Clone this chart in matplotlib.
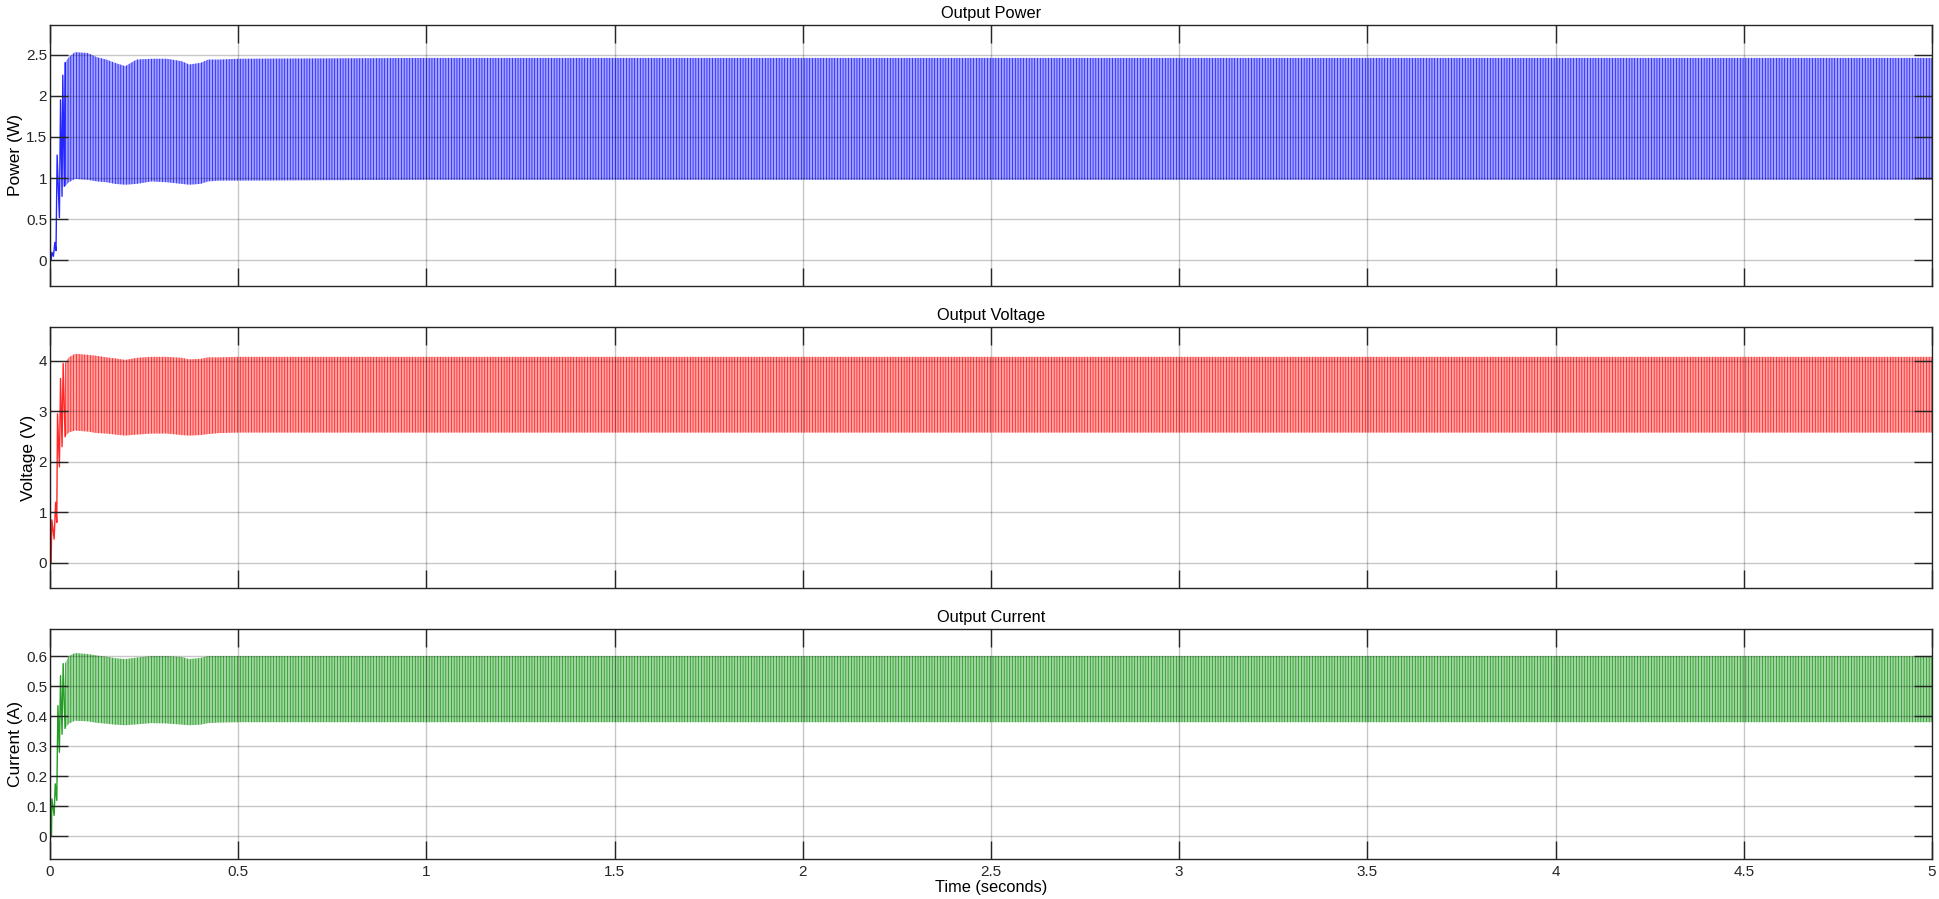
import numpy as np
import matplotlib
matplotlib.use("Agg")
import matplotlib.pyplot as plt
from matplotlib.ticker import FuncFormatter

plt.rcParams['font.family'] = ['Liberation Sans', 'DejaVu Sans']
plt.rcParams['hatch.linewidth'] = 0.45

# start-up transient (individual cycles)
p_tr_t = [0, 0.003, 0.005, 0.009, 0.013, 0.016, 0.019, 0.025, 0.028, 0.032, 0.034, 0.038, 0.040]
p_tr_v = [0, 0, 0.10, 0.05, 0.22, 0.12, 1.28, 0.52, 1.95, 0.78, 2.25, 0.90, 2.40]
v_tr_t = [0, 0.003, 0.005, 0.011, 0.015, 0.018, 0.020, 0.025, 0.028, 0.032, 0.035, 0.040]
v_tr_v = [0, 0, 0.85, 0.47, 1.20, 0.80, 2.95, 1.90, 3.65, 2.30, 3.95, 2.50]
i_tr_t = [0, 0.004, 0.005, 0.011, 0.014, 0.018, 0.021, 0.025, 0.028, 0.032, 0.035, 0.040]
i_tr_v = [0, 0, 0.125, 0.07, 0.175, 0.12, 0.435, 0.28, 0.535, 0.34, 0.575, 0.36]

# ripple envelope (upper / lower) after the transient
env_t = [0.04, 0.05, 0.066, 0.10, 0.124, 0.15, 0.173, 0.20, 0.23, 0.27, 0.31,
         0.35, 0.37, 0.40, 0.42, 0.45, 0.50, 1.0, 2.0, 3.0, 4.0, 5.0]
p_hi = [2.40, 2.47, 2.53, 2.52, 2.47, 2.44, 2.40, 2.36, 2.44, 2.45, 2.45,
        2.42, 2.38, 2.40, 2.44, 2.44, 2.45, 2.46, 2.46, 2.46, 2.46, 2.46]
p_lo = [0.90, 0.95, 0.99, 0.98, 0.96, 0.95, 0.93, 0.92, 0.93, 0.96, 0.95,
        0.93, 0.92, 0.93, 0.96, 0.97, 0.97, 0.98, 0.98, 0.98, 0.98, 0.98]
v_hi = [3.95, 4.07, 4.14, 4.12, 4.10, 4.07, 4.05, 4.02, 4.06, 4.08, 4.08,
        4.06, 4.03, 4.04, 4.07, 4.07, 4.08, 4.08, 4.08, 4.08, 4.08, 4.08]
v_lo = [2.50, 2.58, 2.62, 2.60, 2.57, 2.56, 2.54, 2.52, 2.54, 2.56, 2.56,
        2.53, 2.52, 2.53, 2.55, 2.57, 2.58, 2.58, 2.58, 2.58, 2.58, 2.58]
i_hi = [0.575, 0.600, 0.610, 0.607, 0.602, 0.598, 0.593, 0.590, 0.595, 0.600, 0.600,
        0.597, 0.590, 0.594, 0.600, 0.600, 0.600, 0.600, 0.600, 0.600, 0.600, 0.600]
i_lo = [0.360, 0.375, 0.385, 0.383, 0.378, 0.375, 0.372, 0.370, 0.373, 0.377, 0.376,
        0.372, 0.370, 0.372, 0.377, 0.379, 0.380, 0.380, 0.380, 0.380, 0.380, 0.380]

x_ticks = [0, 0.5, 1, 1.5, 2, 2.5, 3, 3.5, 4, 4.5, 5]

panels = [
    dict(title="Output Power", ylabel="Power (W)", tr_t=p_tr_t, tr_v=p_tr_v, hi=p_hi, lo=p_lo,
         color=(0, 0, 1), ylim=(-0.31, 2.86), yticks=[0, 0.5, 1, 1.5, 2, 2.5],
         rect=[0.02577, 0.6819, 0.9701, 0.2903]),
    dict(title="Output Voltage", ylabel="Voltage (V)", tr_t=v_tr_t, tr_v=v_tr_v, hi=v_hi, lo=v_lo,
         color=(1, 0, 0), ylim=(-0.5, 4.67), yticks=[0, 1, 2, 3, 4],
         rect=[0.02577, 0.3459, 0.9701, 0.2903]),
    dict(title="Output Current", ylabel="Current (A)", tr_t=i_tr_t, tr_v=i_tr_v, hi=i_hi, lo=i_lo,
         color=(0, 0.55, 0), ylim=(-0.075, 0.69), yticks=[0, 0.1, 0.2, 0.3, 0.4, 0.5, 0.6],
         rect=[0.02577, 0.0445, 0.9701, 0.2558]),
]

fig = plt.figure(figsize=(19.4, 8.99), dpi=100)
dark = (0.15, 0.15, 0.15)
fmt = FuncFormatter(lambda v, pos: f"{v:g}")

for k, pn in enumerate(panels):
    ax = fig.add_axes(pn['rect'])
    c = pn['color']
    ax.plot(pn['tr_t'], pn['tr_v'], color=c, lw=1.0, alpha=0.85)
    ax.fill_between(env_t, pn['lo'], pn['hi'], facecolor=(*c, 0.36),
                    edgecolor=c, hatch='||||||', linewidth=0)
    ax.set_xlim(0, 5)
    ax.set_ylim(*pn['ylim'])
    ax.set_xticks(x_ticks)
    ax.set_yticks(pn['yticks'])
    ax.yaxis.set_major_formatter(fmt)
    ax.xaxis.set_major_formatter(fmt)
    ax.set_axisbelow(False)
    ax.grid(True, color='k', alpha=0.22, lw=1.0)
    ax.tick_params(direction='in', length=13, width=1.0, color=dark, labelcolor=dark,
                   labelsize=11, top=True, right=True, pad=2)
    ax.tick_params(axis='x', pad=4)
    for s in ax.spines.values():
        s.set_color(dark)
        s.set_linewidth(1.0)
    ax.set_title(pn['title'], fontsize=11.8, color='black', pad=5)
    ax.set_ylabel(pn['ylabel'], fontsize=12.5, color='black', labelpad=2)
    if k < 2:
        ax.tick_params(labelbottom=False)
    else:
        ax.set_xlabel("Time (seconds)", fontsize=11.8, color='black', labelpad=1)

fig.savefig("out.png", dpi=100, facecolor='white')
